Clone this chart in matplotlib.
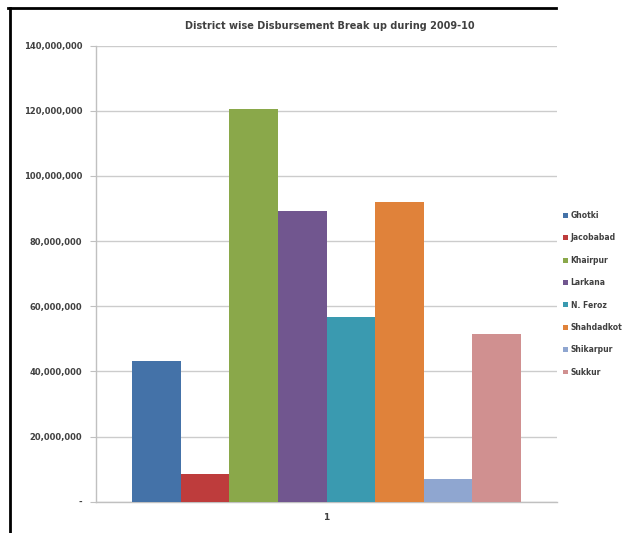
import matplotlib
matplotlib.use("Agg")
import matplotlib.pyplot as plt
from matplotlib.lines import Line2D
from matplotlib.ticker import FuncFormatter

districts = ["Ghotki", "Jacobabad", "Khairpur", "Larkana", "N. Feroz",
             "Shahdadkot", "Shikarpur", "Sukkur"]
values = [43_100_000, 8_500_000, 120_500_000, 89_300_000, 56_800_000,
          91_900_000, 6_900_000, 51_400_000]
colors = ["#4472A8", "#BE3C3C", "#8AA84A", "#71568F", "#3A9AB0",
          "#E0823A", "#8FA6D0", "#D09090"]
category = ["1"]
yticks = [0, 20_000_000, 40_000_000, 60_000_000, 80_000_000,
          100_000_000, 120_000_000, 140_000_000]
title = "District wise Disbursement Break up during 2009-10"

fig = plt.figure(figsize=(6.38, 5.33), dpi=100)
ax = fig.add_axes([96/638, 31.3/533, 461/638, 456/533])

n = len(values)
group = 0.8438
w = group / n
for i, (d, v, c) in enumerate(zip(districts, values, colors)):
    ax.bar(0 + (i - (n - 1) / 2) * w, v, width=w, color=c, label=d, zorder=3)

ax.set_xlim(-0.5, 0.5)
ax.set_ylim(0, 140_000_000)
ax.set_yticks(yticks)
ax.yaxis.set_major_formatter(FuncFormatter(lambda v, p: "-" if v == 0 else f"{int(v):,}"))
ax.set_xticks([0])
ax.set_xticklabels(category)
ax.tick_params(axis="y", labelsize=6, colors="#404040", length=4, width=0.8, pad=6)
ax.tick_params(axis="x", labelsize=6.5, colors="#404040", length=0, pad=8)
for lbl in ax.get_yticklabels() + ax.get_xticklabels():
    lbl.set_fontweight("bold")
ax.grid(axis="y", color="#CCCCCC", linewidth=1, zorder=0)
for s in ["top", "right"]:
    ax.spines[s].set_visible(False)
for s in ["left", "bottom"]:
    ax.spines[s].set_color("#C0C0C0")
    ax.spines[s].set_linewidth(1)
ax.tick_params(axis="y", color="#C0C0C0")

fig.text(330/638, 1 - 26/533, title, ha="center", va="center",
         fontsize=7, fontweight="bold", color="#404040")

leg = ax.legend(loc="upper left", bbox_to_anchor=(560/638, 1 - 208/533),
                bbox_transform=fig.transFigure, frameon=False,
                fontsize=5.5, handlelength=0.6, handleheight=0.6,
                handletextpad=0.4, labelspacing=1.75, borderaxespad=0)
for t in leg.get_texts():
    t.set_fontweight("bold")
    t.set_color("#404040")

fig.add_artist(Line2D([8/638, 556/638], [1 - 8/533, 1 - 8/533],
                      transform=fig.transFigure, color="black", linewidth=2))
fig.add_artist(Line2D([10/638, 10/638], [1 - 8/533, 0],
                      transform=fig.transFigure, color="black", linewidth=2))

fig.savefig("out.png", dpi=100)
